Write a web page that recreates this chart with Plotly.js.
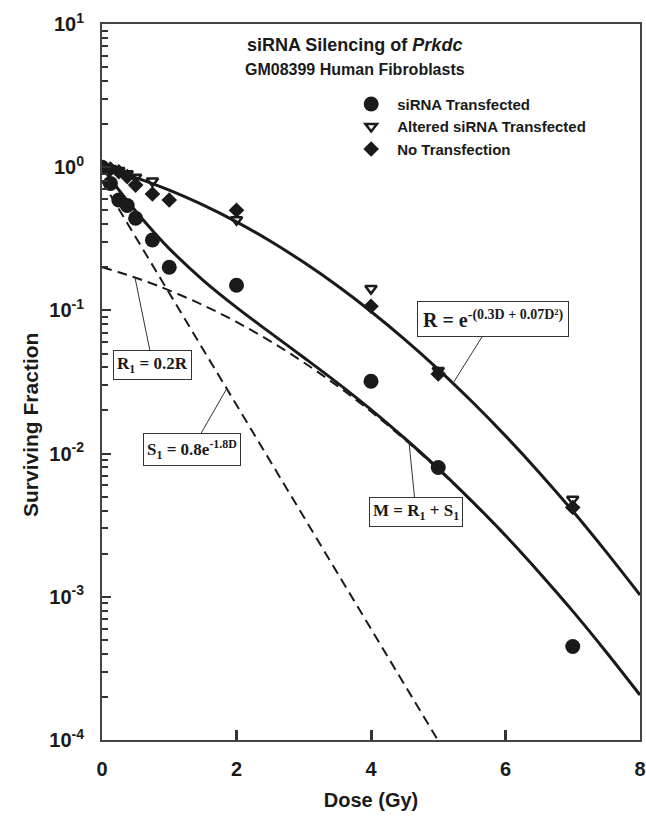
<!DOCTYPE html>
<html>
<head>
<meta charset="utf-8">
<script src="https://cdn.plot.ly/plotly-3.0.1.min.js"></script>
<style>html,body{margin:0;padding:0;background:#fff;}#chart{width:646px;height:819px;}</style>
</head>
<body>
<div id="chart"></div>
<script>
const siDose   = [0, 0.125, 0.25, 0.375, 0.5, 0.75, 1.0, 2, 4, 5, 7];
const siSurv   = [1.0, 0.77, 0.59, 0.54, 0.44, 0.31, 0.20, 0.15, 0.032, 0.008, 0.00045];

const altDose  = [0, 0.125, 0.25, 0.375, 0.5, 0.75, 2, 4, 5, 7];
const altSurv  = [1.0, 0.98, 0.95, 0.90, 0.85, 0.80, 0.43, 0.142, 0.038, 0.0048];

const noDose   = [0, 0.125, 0.25, 0.375, 0.5, 0.75, 1.0, 2, 4, 5, 7];
const noSurv   = [1.0, 0.97, 0.93, 0.86, 0.75, 0.65, 0.59, 0.50, 0.107, 0.036, 0.0042];

// Fitted curves
const curveDose = [0, 0.25, 0.5, 0.75, 1, 1.5, 2, 2.5, 3, 3.5, 4, 4.5, 5, 5.5, 6, 6.5, 7, 7.5, 8];
const curveR  = [1.0, 0.924, 0.846, 0.768, 0.691, 0.545, 0.415, 0.305, 0.2165, 0.1485, 0.0983, 0.0628, 0.0388, 0.0231, 0.0133, 0.00739, 0.00397, 0.00205, 0.00103];
const curveR1 = [0.2, 0.1847, 0.169, 0.1535, 0.138, 0.109, 0.083, 0.061, 0.0433, 0.0297, 0.01966, 0.01256, 0.00776, 0.00462, 0.00266, 0.00148, 0.000794, 0.00041, 0.000206];
const curveM  = [1.0, 0.695, 0.494, 0.361, 0.270, 0.163, 0.105, 0.0699, 0.0469, 0.0312, 0.0203, 0.0128, 0.00786, 0.00466, 0.00268, 0.00148, 0.000794, 0.00041, 0.000206];
const s1Dose  = [0, 0.5, 1, 1.5, 2, 2.5, 3, 3.5, 4, 4.5, 5];
const curveS1 = [0.8, 0.325, 0.1322, 0.0538, 0.02186, 0.00889, 0.003614, 0.001469, 0.000597, 0.000243, 0.0000987];

const xTicks = [0, 2, 4, 6, 8];
const yTickVals = [1e-4, 1e-3, 1e-2, 1e-1, 1, 10];
const yTickText = ['10<sup>-4</sup>', '10<sup>-3</sup>', '10<sup>-2</sup>', '10<sup>-1</sup>', '10<sup>0</sup>', '10<sup>1</sup>'];

const minorVals = [];
for (let e = -4; e < 1; e++) for (let m = 2; m <= 9; m++) minorVals.push(m * Math.pow(10, e));

const ink = '#1a1a1a';
const sans = 'Liberation Sans, Arial, sans-serif';
const traces = [
  {x: curveDose, y: curveR1, mode: 'lines', line: {color: ink, width: 2, dash: '10px,6px', shape: 'spline'}, showlegend: false, hoverinfo: 'skip'},
  {x: s1Dose, y: curveS1, mode: 'lines', line: {color: ink, width: 2, dash: '10px,6px'}, showlegend: false, hoverinfo: 'skip'},
  {x: curveDose, y: curveR, mode: 'lines', line: {color: ink, width: 3, shape: 'spline'}, showlegend: false, hoverinfo: 'skip'},
  {x: curveDose, y: curveM, mode: 'lines', line: {color: ink, width: 3, shape: 'spline'}, showlegend: false, hoverinfo: 'skip'},
  {x: siDose, y: siSurv, mode: 'markers', name: 'siRNA Transfected', marker: {symbol: 'circle', size: 15, color: ink}},
  {x: altDose, y: altSurv, mode: 'markers', name: 'Altered siRNA Transfected', marker: {symbol: 'triangle-down-open', size: 10, color: ink, line: {width: 2.5, color: ink}}},
  {x: noDose, y: noSurv, mode: 'markers', name: 'No Transfection', marker: {symbol: 'diamond', size: 12, color: ink}}
];

const serif = {family: 'Liberation Serif, Times New Roman, serif', size: 17, color: ink, weight: 'bold'};
const boxAnn = {showarrow: true, arrowhead: 0, arrowwidth: 1, arrowcolor: '#333', bordercolor: '#333', borderwidth: 1, borderpad: 3, bgcolor: '#fff', xref: 'x', yref: 'y'};
const L = Math.log10;

const layout = {
  width: 646, height: 819,
  margin: {l: 102, r: 6, t: 24, b: 79},
  paper_bgcolor: '#fff', plot_bgcolor: '#fff',
  showlegend: true,
  legend: {x: 0.452, xanchor: 'left', y: 0.911, yanchor: 'top', bgcolor: 'rgba(0,0,0,0)', itemwidth: 42,
           font: {family: sans, size: 15, color: ink, weight: 'bold'}, tracegroupgap: 0},
  xaxis: {range: [0, 8], tickvals: xTicks, ticks: 'inside', ticklen: 10, tickwidth: 3, tickcolor: '#333',
          showline: true, linecolor: '#444', linewidth: 2, mirror: true, showgrid: false, zeroline: false,
          ticklabelstandoff: 10,
          tickfont: {family: sans, size: 20, color: ink, weight: 'bold'},
          title: {text: 'Dose (Gy)', standoff: 14, font: {family: sans, size: 20, color: ink, weight: 'bold'}}},
  yaxis: {type: 'log', range: [-4, 1], tickmode: 'array', tickvals: yTickVals, ticktext: yTickText,
          ticks: 'inside', ticklen: 9, tickwidth: 2, tickcolor: '#333',
          minor: {tickmode: 'array', tickvals: minorVals, ticks: 'inside', ticklen: 6, tickwidth: 2, tickcolor: '#333', showgrid: false},
          showline: true, linecolor: '#444', linewidth: 2, mirror: true, showgrid: false, zeroline: false,
          ticklabelstandoff: 12,
          tickfont: {family: sans, size: 20, color: ink, weight: 'bold'}},
  annotations: [
    {text: 'Surviving Fraction', xref: 'paper', yref: 'paper', x: (30 - 102) / 538, y: (740 - 425) / 716, xanchor: 'center', yanchor: 'middle', textangle: -90, showarrow: false,
     font: {family: sans, size: 21, color: ink, weight: 'bold'}},
    {text: 'siRNA Silencing of <i>Prkdc</i>', xref: 'paper', yref: 'paper', x: (354 - 102) / 538, y: (740 - 45) / 716, xanchor: 'center', yanchor: 'middle', showarrow: false,
     font: {family: sans, size: 18, color: ink, weight: 'bold'}},
    {text: 'GM08399 Human Fibroblasts', xref: 'paper', yref: 'paper', x: (355 - 102) / 538, y: (740 - 69) / 716, xanchor: 'center', yanchor: 'middle', showarrow: false,
     font: {family: sans, size: 16, color: ink, weight: 'bold'}},
    Object.assign({}, boxAnn, {text: 'R<sub>1</sub> = 0.2R', x: 0.49, y: L(0.170), ax: 18, ay: 88, font: serif}),
    Object.assign({}, boxAnn, {text: 'S<sub>1</sub> = 0.8e<sup>-1.8D</sup>', x: 1.854, y: L(0.0284), ax: -35, ay: 61, font: serif}),
    Object.assign({}, boxAnn, {text: 'M = R<sub>1</sub> + S<sub>1</sub>', x: 4.565, y: L(0.01204), ax: 7, ay: 70, font: serif}),
    Object.assign({}, boxAnn, {text: 'R = e<sup>-(0.3D + 0.07D²)</sup>', x: 5.22, y: L(0.031), ax: 40, ay: -64, borderpad: 5, font: Object.assign({}, serif, {size: 20})})
  ]
};

Plotly.newPlot('chart', traces, layout, {staticPlot: true, displayModeBar: false});
</script>
</body>
</html>
